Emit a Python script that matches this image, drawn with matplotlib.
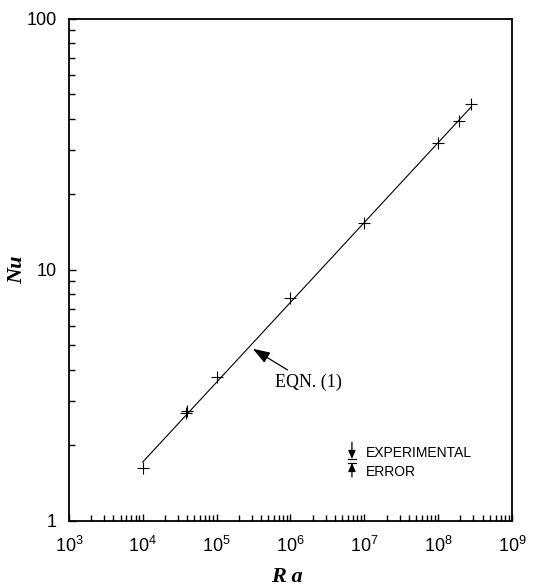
import numpy as np
import matplotlib
matplotlib.use('Agg')
import matplotlib.pyplot as plt
from matplotlib.ticker import LogLocator, FixedLocator, NullFormatter

plt.rcParams['font.family'] = 'Liberation Sans'
plt.rcParams['mathtext.fontset'] = 'custom'
plt.rcParams['mathtext.rm'] = 'Liberation Sans'
plt.rcParams['mathtext.it'] = 'Liberation Sans:italic'

# measured points
ra = [1e4, 3.8e4, 4.0e4, 1e5, 1e6, 1e7, 1e8, 1.9e8, 2.8e8]
nu = [1.62, 2.70, 2.75, 3.75, 7.7, 15.4, 32.0, 39.2, 45.8]

# EQN. (1): Nu = C * Ra^n
eqn_c = 0.0918
eqn_n = 0.318
eqn_range = [1e4, 2.8e8]

# experimental error symbol
err_x = 6.8e6
err_top, err_hi, err_lo, err_bot = 2.06, 1.766, 1.702, 1.497

fig = plt.figure(figsize=(5.47, 5.88), dpi=100)
ax = fig.add_axes([0.126, 0.114, 0.81, 0.854])

ra_line = np.logspace(np.log10(eqn_range[0]), np.log10(eqn_range[1]), 100)
ax.plot(ra_line, eqn_c * ra_line ** eqn_n, color='black', lw=0.8)
ax.plot(ra, nu, ls='none', marker='+', ms=9, mew=0.8, color='black')

ax.set_xscale('log')
ax.set_yscale('log')
ax.set_xlim(1e3, 1e9)
ax.set_ylim(1, 100)

ax.xaxis.set_major_locator(FixedLocator([10.0 ** k for k in range(3, 10)]))
ax.set_xticklabels([r'$10^{%d}$' % k for k in range(3, 10)])
ax.xaxis.set_minor_locator(LogLocator(base=10, subs=np.arange(2, 10), numticks=20))
ax.xaxis.set_minor_formatter(NullFormatter())
ax.yaxis.set_major_locator(FixedLocator([1, 10, 100]))
ax.set_yticklabels(['1', '10', '100'])
ax.yaxis.set_minor_locator(LogLocator(base=10, subs=np.arange(2, 10), numticks=20))
ax.yaxis.set_minor_formatter(NullFormatter())

ax.tick_params(which='both', direction='in', top=False, right=False,
               width=1.0, labelsize=13)
ax.tick_params(axis='x', which='major', length=5, pad=11)
ax.tick_params(axis='y', which='major', length=5, pad=9)
ax.tick_params(which='minor', length=4.5)
for s in ax.spines.values():
    s.set_linewidth(1.3)

ax.set_xlabel('R a', family='Liberation Serif', weight='bold', style='italic',
              fontsize=16, va='center')
ax.set_ylabel('Nu', family='Liberation Serif', weight='bold', style='italic',
              fontsize=16, va='center')
ax.xaxis.set_label_coords(0.492, -0.112)
ax.yaxis.set_label_coords(-0.117, 0.5)

# EQN. (1) label with arrow
ax.annotate('EQN. (1)', xy=(3.1e5, 4.85), xytext=(6.2e5, 3.55),
            family='Liberation Serif', fontsize=13, va='center', ha='left',
            arrowprops=dict(arrowstyle='-|>,head_length=0.8,head_width=0.28',
                            color='black', lw=0.9, shrinkA=2, shrinkB=0))

# experimental error symbol
arr = dict(arrowstyle='-|>,head_length=0.5,head_width=0.22', color='black',
           lw=0.9, shrinkA=0, shrinkB=0)
ax.annotate('', xy=(err_x, err_hi), xytext=(err_x, err_top), arrowprops=arr)
ax.annotate('', xy=(err_x, err_lo), xytext=(err_x, err_bot), arrowprops=arr)
bar_w = 10 ** 0.055
for yv in (err_hi, err_lo):
    ax.plot([err_x / bar_w, err_x * bar_w], [yv, yv], color='black', lw=0.9)
ax.text(err_x * 10 ** 0.19, 1.86, 'EXPERIMENTAL', fontsize=10, va='center')
ax.text(err_x * 10 ** 0.19, 1.56, 'ERROR', fontsize=10, va='center')

fig.savefig('out.png', dpi=100)
